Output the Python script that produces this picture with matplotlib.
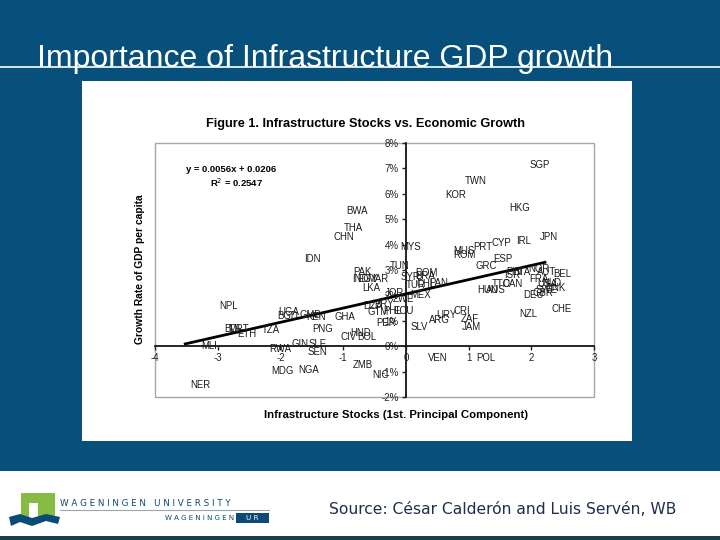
import matplotlib
matplotlib.use('Agg')
import matplotlib.pyplot as plt
from matplotlib.patches import Rectangle, Polygon

# colors
slide_blue = '#08507c'
frame_gray = '#a6a6a6'
logo_green = '#86bc42'
logo_navy = '#0b4a78'
source_navy = '#1c2f4f'

# country codes, infrastructure stocks (1st PC) and growth (% per capita)
codes = ['SGP', 'TWN', 'KOR', 'HKG', 'BWA', 'THA', 'CHN', 'MYS', 'JPN', 'IRL',
         'CYP', 'PRT', 'MUS', 'ROM', 'ESP', 'GRC', 'IDN', 'TUN', 'PAK', 'IND',
         'EGY', 'MAR', 'LKA', 'SYR', 'DOM', 'BRA', 'TUR', 'CHL', 'PAN', 'MEX',
         'JOR', 'ZWE', 'DZA', 'PRY', 'GTM', 'PHL', 'ECU', 'PER', 'SLV', 'ARG',
         'URY', 'CRI', 'ZAF', 'JAM', 'VEN', 'POL', 'NZL', 'CHE', 'FIN', 'ITA',
         'ISR', 'NOR', 'AUT', 'BEL', 'FRA', 'USA', 'CAN', 'TTO', 'HUN', 'AUS',
         'NLD', 'DNK', 'SWE', 'GBR', 'DEU', 'NPL', 'UGA', 'BGD', 'GMB', 'KEN',
         'GHA', 'BDI', 'MRT', 'ETH', 'TZA', 'PNG', 'CIV', 'HND', 'BOL', 'MLI',
         'RWA', 'GIN', 'SLE', 'SEN', 'MDG', 'NGA', 'ZMB', 'NIC', 'NER']
infra = [2.13, 1.11, 0.80, 1.81, -0.78, -0.84, -0.99, 0.07, 2.28, 1.87,
         1.53, 1.23, 0.93, 0.93, 1.54, 1.28, -1.49, -0.10, -0.69, -0.72,
         -0.62, -0.44, -0.55, 0.07, 0.33, 0.31, 0.16, 0.33, 0.53, 0.24,
         -0.18, -0.04, -0.52, -0.35, -0.44, -0.21, -0.04, -0.31, 0.22, 0.53,
         0.65, 0.89, 1.02, 1.05, 0.51, 1.27, 1.95, 2.49, 1.72, 1.87,
         1.70, 2.12, 2.24, 2.49, 2.12, 2.26, 1.70, 1.53, 1.30, 1.44,
         2.33, 2.38, 2.24, 2.19, 2.04, -2.83, -1.87, -1.89, -1.52, -1.43,
         -0.98, -2.77, -2.66, -2.53, -2.15, -1.33, -0.92, -0.72, -0.62, -3.14,
         -2.01, -1.68, -1.41, -1.41, -1.96, -1.55, -0.69, -0.40, -3.28]
growth = [7.12, 6.50, 5.94, 5.44, 5.34, 4.64, 4.30, 3.90, 4.28, 4.13,
          4.07, 3.90, 3.76, 3.58, 3.44, 3.15, 3.42, 3.15, 2.91, 2.66,
          2.66, 2.66, 2.28, 2.73, 2.89, 2.76, 2.40, 2.45, 2.47, 2.01,
          2.08, 1.84, 1.57, 1.68, 1.34, 1.38, 1.38, 0.90, 0.76, 1.05,
          1.23, 1.38, 1.08, 0.76, -0.47, -0.45, 1.25, 1.47, 2.92, 2.92,
          2.80, 3.02, 2.92, 2.85, 2.66, 2.45, 2.43, 2.45, 2.23, 2.23,
          2.49, 2.30, 2.20, 2.10, 2.03, 1.57, 1.35, 1.18, 1.23, 1.14,
          1.14, 0.66, 0.66, 0.49, 0.63, 0.67, 0.38, 0.50, 0.37, 0.00,
          -0.10, 0.10, 0.10, -0.24, -0.96, -0.94, -0.73, -1.15, -1.51]

# fitted trend line y = 0.0056x + 0.0206 (in %)
fit_x = [-3.54, 2.24]
fit_slope = 0.56
fit_intercept = 2.06

x_ticks = [-4, -3, -2, -1, 0, 1, 2, 3]
y_ticks = [-2, -1, 0, 1, 2, 3, 4, 5, 6, 7, 8]

plt.rcParams['font.family'] = ['Liberation Sans', 'DejaVu Sans']

fig = plt.figure(figsize=(7.2, 5.4), dpi=100)
fig.patch.set_facecolor(slide_blue)

# slide title and rule
fig.text(37 / 720, 1 - 67 / 540, 'Importance of Infrastructure GDP growth',
         color='white', fontsize=23, ha='left', va='baseline')
fig.add_artist(plt.Line2D([0, 1], [1 - 67 / 540, 1 - 67 / 540],
                          color='white', lw=1.2, transform=fig.transFigure))

# white picture panel
fig.patches.append(Rectangle((82 / 720, 1 - 441 / 540), 550 / 720, 360 / 540,
                             transform=fig.transFigure, facecolor='white',
                             edgecolor='none', zorder=-2))

# bottom footer band
fig.patches.append(Rectangle((0, 4 / 540), 1, 65 / 540, transform=fig.transFigure,
                             facecolor='white', edgecolor='none', zorder=-2))
fig.patches.append(Rectangle((0, 0), 1, 4 / 540, transform=fig.transFigure,
                             facecolor='#1d3d4f', edgecolor='none', zorder=-2))

# chart
ax = fig.add_axes([155 / 720, 1 - 397 / 540, 439 / 720, 254 / 540])
ax.set_zorder(2)
ax.set_facecolor('white')
ax.set_xlim(-4, 3)
ax.set_ylim(-2, 8)

for s in ['top', 'right']:
    ax.spines[s].set_visible(False)
ax.spines['left'].set_position(('data', 0))
ax.spines['bottom'].set_position(('data', 0))
for s in ['left', 'bottom']:
    ax.spines[s].set_color('black')
    ax.spines[s].set_linewidth(1.2)
    ax.spines[s].set_zorder(1)
ax.add_patch(Rectangle((0, 0), 1, 1, transform=ax.transAxes, fill=False,
                       edgecolor=frame_gray, lw=1.0, zorder=0, clip_on=False))

ax.set_xticks(x_ticks)
ax.set_xticklabels([str(v) for v in x_ticks])
ax.set_yticks(y_ticks)
ax.set_yticklabels([f'{v}%' for v in y_ticks])
ax.tick_params(axis='both', direction='out', length=3, width=1,
               labelsize=7, pad=2, colors='#222222')

# trend line
ax.plot(fit_x, [fit_slope * v + fit_intercept for v in fit_x],
        color='black', lw=2, zorder=3, solid_capstyle='butt')

# country labels
for c, xv, yv in zip(codes, infra, growth):
    ax.text(xv, yv, c, fontsize=6.9, ha='center', va='center',
            color='#1a1a1a', zorder=4)

ax.text(-3.5, 6.95, 'y = 0.0056x + 0.0206', fontsize=6.8, fontweight='bold',
        ha='left', va='center')
ax.text(-3.13, 6.45, 'R$^2$ = 0.2547', fontsize=6.8, fontweight='bold',
        ha='left', va='center')

fig.text(365 / 720, 1 - 124 / 540, 'Figure 1. Infrastructure Stocks vs. Economic Growth',
         fontsize=9.2, fontweight='bold', ha='center', va='center')
fig.text(140 / 720, 1 - 269 / 540, 'Growth Rate of GDP per capita', rotation=90,
         fontsize=7.4, fontweight='bold', ha='center', va='center')
fig.text(396 / 720, 1 - 415 / 540, 'Infrastructure Stocks (1st. Principal Component)',
         fontsize=8.2, fontweight='bold', ha='center', va='center')

# logo
fig.patches.append(Rectangle((21 / 720, 1 - 518 / 540), 34 / 720, 25 / 540,
                             transform=fig.transFigure, facecolor=logo_green,
                             edgecolor='none'))
fig.patches.append(Rectangle((29 / 720, 1 - 518 / 540), 9 / 720, 15 / 540,
                             transform=fig.transFigure, facecolor='white',
                             edgecolor='none'))
wave = [(9, 517), (20, 514), (32, 518), (46, 514), (60, 517), (58, 524),
        (46, 521), (32, 526), (20, 522), (11, 526)]
fig.patches.append(Polygon([(px / 720, 1 - py / 540) for px, py in wave],
                           closed=True, transform=fig.transFigure,
                           facecolor=logo_navy, edgecolor='none'))
fig.text(60 / 720, 1 - 503 / 540, 'W A G E N I N G E N   U N I V E R S I T Y',
         fontsize=6.3, color=logo_navy, ha='left', va='center',
         family='DejaVu Sans')
fig.add_artist(plt.Line2D([60 / 720, 269 / 720], [1 - 510 / 540, 1 - 510 / 540],
                          color='#9aa5ad', lw=0.8, transform=fig.transFigure))
fig.text(234 / 720, 1 - 518 / 540, 'W A G E N I N G E N', fontsize=5.0,
         color=logo_navy, ha='right', va='center', family='DejaVu Sans')
fig.patches.append(Rectangle((236 / 720, 1 - 523 / 540), 33 / 720, 10 / 540,
                             transform=fig.transFigure, facecolor=logo_navy,
                             edgecolor='none'))
fig.text(252 / 720, 1 - 518 / 540, 'U R', fontsize=5.2, color='white',
         ha='center', va='center', family='DejaVu Sans')

fig.text(329 / 720, 1 - 509 / 540, 'Source: César Calderón and Luis Servén, WB',
         fontsize=11.2, color=source_navy, ha='left', va='center',
         family='DejaVu Sans')

fig.savefig('out.png', dpi=100, facecolor=fig.get_facecolor())
